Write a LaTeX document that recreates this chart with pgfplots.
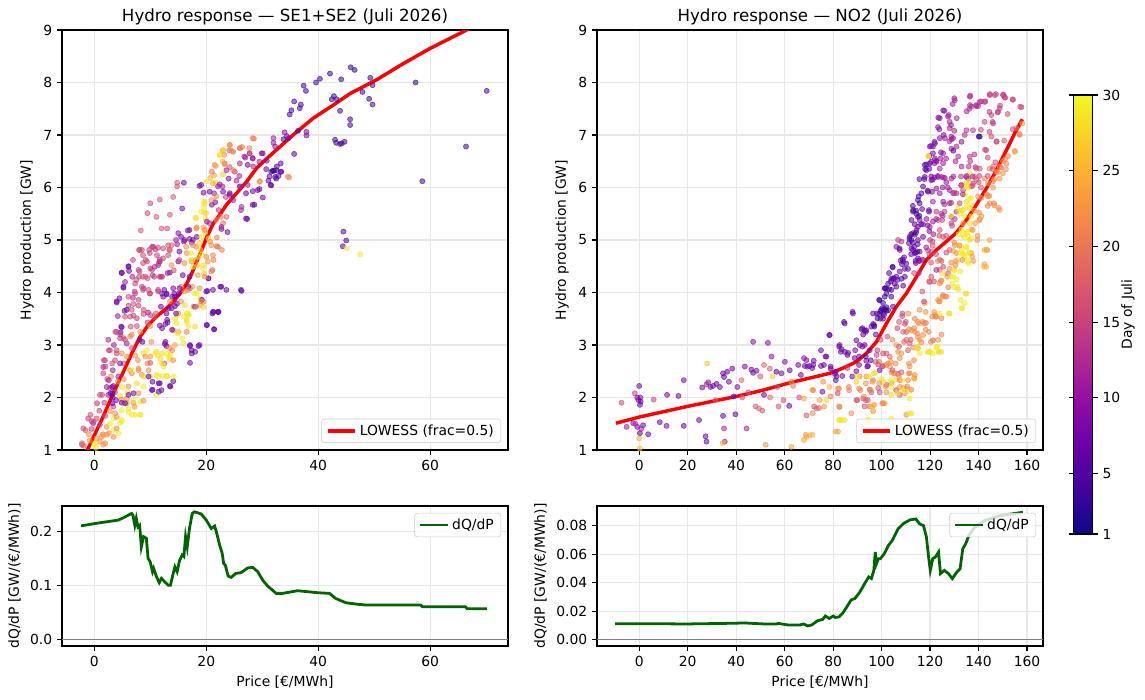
\documentclass[border=0pt]{standalone}
\usepackage{fontspec}
\setmainfont{DejaVu Sans}
\usepackage{pgfplots}
\pgfplotsset{compat=1.18}
\usetikzlibrary{calc}
\definecolor{lgrid}{HTML}{E8E8E8}
\definecolor{dgreen}{HTML}{006400}
\definecolor{zgray}{HTML}{808080}
\pgfplotsset{
 colormap={plasma}{rgb255=(13,8,135) rgb255=(65,4,157) rgb255=(106,0,168) rgb255=(143,13,164) rgb255=(177,42,144) rgb255=(204,71,120) rgb255=(225,100,98) rgb255=(242,132,75) rgb255=(252,166,54) rgb255=(252,206,37) rgb255=(240,249,33)},
 legend image code/.code={\draw[#1] (0pt,0pt) -- (20pt,0pt);},
 base/.style={scale only axis, width=321.12pt,
   axis line style={line width=0.8pt}, tick style={line width=0.8pt, black},
   tick align=outside, major tick length=3.5pt, xtick pos=left, ytick pos=left,
   grid=major, grid style={line width=0.8pt, lgrid},
   /pgf/number format/assume math mode=true,
   tick label style={font=\fontsize{10}{12}\selectfont},
   label style={font=\fontsize{10}{12}\selectfont},
   title style={font=\fontsize{12}{14}\selectfont, yshift=-6pt},
   legend cell align=left,
   legend style={font=\fontsize{10}{12}\selectfont, draw=black!20, fill=white, fill opacity=0.8, text opacity=1, rounded corners=2pt, inner xsep=3pt, inner ysep=2pt}},
 scat/.style={scatter, only marks, mark=*, mark size=1.85pt, point meta=explicit,
   scatter/use mapped color={draw=mapped color, fill=mapped color},
   mark options={line width=0.45pt, fill opacity=0.55, draw opacity=0.65}, forget plot}
}
\begin{document}
\begin{tikzpicture}
\path[use as bounding box] (0,0) rectangle (824.4pt,503.28pt);
% ---------------- top left
\begin{axis}[base, at={(44.64pt,179.28pt)}, anchor=south west, height=302.4pt,
  xmin=-5.77, xmax=73.9, ymin=1, ymax=9, xtick={0,20,40,60}, ytick={1,2,...,9},
  colormap name=plasma, point meta min=1, point meta max=30,
  title={Hydro response — SE1+SE2 (Juli 2026)}, ylabel={Hydro production [GW]},
  legend style={at={(1,0)}, anchor=south east, xshift=-5pt, yshift=5pt}]
\addplot[scat] coordinates {
(45.8,8.29)[3] (46.5,8.24)[3] (42.1,8.17)[3] (40.3,8.07)[4] (39.6,8.0)[4] (44.1,8.06)[3] (49.3,8.09)[4] (49.7,7.95)[4] (57.4,8.0)[3] (70.1,7.84)[4] (37.4,7.94)[4] (37.8,7.84)[4] (47.9,7.82)[4] (35.7,7.64)[5] (36.9,7.58)[5] (36.7,7.51)[4] (42.4,7.68)[4] (42.8,7.74)[3] (43.3,7.68)[4] (49.1,7.69)[3] (49.7,7.58)[4] (34.9,7.39)[5] (35.2,7.47)[4] (43.9,7.46)[4] (45.7,7.3)[4] (45.7,7.19)[4] (37.9,7.06)[9] (37.9,6.99)[9] (36.4,7.08)[5] (34.0,7.05)[10] (34.4,6.98)[9] (34.7,6.94)[8] (33.8,6.92)[4] (32.0,6.94)[11] (32.0,6.85)[11] (32.3,6.78)[10] (28.5,6.93)[19] (35.7,6.64)[5] (43.0,6.91)[4] (43.2,6.85)[5] (43.9,6.83)[4] (44.2,6.84)[4] (44.7,6.87)[4] (66.4,6.78)[4] (58.6,6.12)[4] (44.5,5.16)[5] (45.0,4.99)[5] (44.4,4.88)[5] (45.1,4.84)[29] (47.5,4.73)[29]
(24.2,6.81)[22] (24.1,6.71)[18] (22.9,6.71)[27] (22.4,6.62)[28] (23.2,6.62)[22] (26.0,6.75)[21] (26.4,6.77)[20] (24.8,6.68)[18] (27.0,6.57)[12] (27.8,6.65)[22] (29.9,6.65)[10] (21.7,6.41)[23] (23.3,6.44)[22] (22.9,6.5)[26] (24.2,6.39)[17] (25.1,6.3)[14] (28.3,6.55)[16] (28.4,6.40)[12] (30.8,6.51)[9] (31.6,6.30)[3] (32.1,6.32)[2] (32.6,6.4)[5] (33.3,6.46)[6] (32.3,6.2)[3] (32.9,6.22)[4] (33.3,6.3)[5] (34.8,6.19)[22] (29.6,6.12)[23] (31.1,6.13)[6] (31.6,6.04)[5] (25.9,6.22)[12] (24.0,6.17)[8] (21.4,6.23)[24] (20.7,6.18)[25] (20.1,6.11)[29] (21.6,6.1)[29] (22.4,6.06)[9] (22.9,6.02)[12] (14.8,6.09)[17] (14.8,6.02)[17] (16.0,6.09)[7] (18.8,6.03)[7] (19.5,5.9)[8] (21.4,5.89)[11] (24.2,5.89)[8] (23.5,5.82)[14] (26.0,6.02)[11] (28.3,5.93)[7] (29.5,5.97)[6] (28.6,5.67)[6] (27.3,5.4)[6] (26.3,5.63)[12] (23.0,6.25)[27] (21.0,6.3)[20]
(10.0,5.70)[16] (11.7,5.77)[17] (14.1,5.82)[17] (9.5,5.51)[16] (11.1,5.44)[17] (13.5,5.48)[17] (15.7,5.60)[8] (19.6,5.73)[29] (19.5,5.62)[29] (19.7,5.52)[28] (21.0,5.67)[8] (21.6,5.72)[9] (19.9,5.4)[28] (18.1,5.43)[28] (20.1,5.35)[11] (22.2,5.57)[13] (22.6,5.44)[20] (23.0,5.32)[19] (22.7,5.21)[9] (23.8,5.15)[7] (8.3,5.18)[17] (12.0,5.22)[17] (13.0,5.22)[16] (18.3,5.24)[22] (19.5,5.24)[24] (19.8,5.14)[27] (15.0,5.13)[9] (16.7,5.18)[10] (16.0,4.97)[10] (17.4,4.95)[12] (17.0,5.02)[8] (18.3,5.06)[7] (20.4,5.03)[28] (20.7,4.97)[23] (21.9,5.05)[21] (21.9,4.88)[19] (22.8,4.81)[21] (9.8,4.81)[15] (10.5,4.87)[16] (10.9,4.82)[14] (11.4,4.85)[15] (13.5,4.81)[17] (13.2,4.9)[16] (14.8,4.92)[11] (18.2,4.87)[22] (19.0,4.81)[27] (19.2,4.72)[29] (16.5,4.75)[22]
(8.0,4.81)[15] (6.1,4.5)[7] (6.2,4.41)[7] (4.9,4.38)[7] (9.2,4.62)[15] (10.0,4.46)[14] (11.7,4.63)[15] (11.4,4.52)[12] (13.2,4.71)[16] (13.5,4.38)[7] (15.0,4.59)[8] (17.4,4.59)[22] (18.1,4.62)[20] (19.5,4.52)[28] (19.6,4.36)[27] (21.3,4.62)[21] (21.1,4.43)[18] (20.4,4.27)[17] (8.0,4.3)[15] (9.5,4.27)[16] (10.7,4.3)[15] (11.7,4.3)[14] (14.2,4.42)[16] (7.3,4.17)[15] (8.8,4.08)[12] (10.0,3.98)[15] (11.4,4.05)[14] (12.5,4.05)[8] (12.9,3.96)[7] (14.1,4.08)[8] (14.4,3.92)[7] (15.5,4.11)[22] (16.2,4.02)[23] (17.1,4.08)[16] (17.5,4.11)[23] (18.3,3.98)[29] (18.9,3.89)[28] (20.2,4.03)[7] (22.7,4.11)[6] (26.3,4.03)[6] (5.2,4.09)[7] (4.0,3.81)[7] (4.5,3.89)[7] (5.4,3.65)[7] (6.1,3.75)[15] (7.0,3.78)[16] (7.9,3.75)[15] (6.4,3.54)[16] (7.0,3.56)[15] (8.8,3.59)[16] (9.6,3.62)[11] (11.0,3.6)[16] (11.9,3.73)[7] (12.9,3.6)[7] (13.3,3.7)[8] (14.4,3.74)[7] (15.0,3.6)[22] (16.2,3.76)[28] (16.5,3.6)[29] (16.9,3.57)[29] (17.7,3.73)[22] (18.9,3.76)[23] (19.5,3.72)[28] (19.5,3.82)[22] (21.1,3.6)[6] (22.1,3.63)[6] (20.1,3.38)[6] (21.4,3.3)[6]
(4.9,3.34)[7] (4.7,3.24)[7] (4.0,3.25)[15] (4.6,3.2)[14] (6.5,3.35)[16] (7.6,3.36)[16] (6.7,3.2)[22] (8.2,3.25)[22] (9.5,3.43)[15] (10.0,3.36)[22] (10.7,3.53)[17] (11.7,3.37)[8] (12.7,3.4)[7] (13.1,3.43)[8] (14.4,3.5)[28] (14.7,3.41)[29] (14.1,3.28)[22] (15.0,3.25)[23] (16.5,3.45)[29] (16.8,3.36)[29] (18.0,3.35)[28] (16.5,3.25)[21] (5.2,3.13)[15] (5.8,3.03)[11] (6.7,2.94)[16] (8.6,3.06)[6] (8.1,3.1)[7] (9.4,2.9)[29] (10.2,3.06)[22] (11.1,2.87)[28] (12.6,3.02)[7] (12.9,2.98)[8] (13.5,2.94)[22] (14.4,3.0)[24] (15.9,3.03)[29] (17.1,2.98)[7] (17.4,2.9)[7] (18.0,2.87)[7] (18.8,3.0)[7] (4.0,2.84)[15] (3.7,2.71)[15] (2.8,2.9)[16] (1.9,2.71)[15] (4.9,2.84)[22] (5.8,2.78)[22] (7.3,2.8)[22] (7.8,2.71)[22] (8.8,2.84)[28] (9.5,2.65)[21] (10.0,2.66)[17] (11.3,2.8)[29] (11.8,2.74)[28] (13.0,2.83)[29] (13.5,2.73)[28] (14.1,2.71)[22] (12.5,2.65)[16] (17.1,2.66)[7] (1.6,2.58)[11] (1.6,2.46)[15] (3.3,2.52)[11] (5.2,2.65)[16] (6.4,2.52)[22] (7.9,2.55)[22] (8.5,2.43)[22] (10.0,2.4)[29] (11.1,2.43)[28] (12.3,2.41)[29] (13.0,2.41)[28] (14.1,2.31)[6] (11.7,2.27)[7] (12.0,2.14)[7] (10.4,2.15)[7] (13.5,2.22)[7] (11.1,2.05)[29] (10.4,2.3)[7]
(2.2,2.2)[11] (2.8,2.18)[12] (3.4,2.22)[11] (1.0,2.05)[15] (2.5,2.05)[11] (3.7,2.1)[15] (4.6,2.03)[28] (4.9,1.96)[22] (5.8,1.98)[22] (6.1,1.79)[29] (7.0,1.9)[22] (7.2,1.82)[23] (8.2,1.92)[29] (8.8,1.94)[22] (6.7,1.67)[29] (7.3,1.67)[29] (8.2,1.67)[29] (4.9,1.57)[29] (4.6,1.51)[29] (3.7,1.7)[22] (3.4,1.83)[15] (2.8,1.74)[22] (0.4,1.6)[16] (-0.5,1.55)[15] (-1.1,1.6)[15] (-0.2,1.51)[11] (-1.96,1.41)[16] (1.0,1.48)[15] (2.2,1.44)[22] (2.8,1.5)[29] (3.4,1.38)[29] (4.3,1.32)[29] (2.2,1.29)[22] (1.3,1.25)[22] (0.4,1.22)[22] (0.0,1.1)[29] (0.3,1.04)[29] (-2.2,1.1)[16] (-1.9,1.08)[17] (1.0,1.16)[22] (1.6,1.1)[22] (-0.8,1.18)[22] (3.3,2.0)[7] (3.9,1.95)[7] (4.9,1.9)[7] (1.8,1.9)[15] (2.3,2.35)[15] (3.0,2.4)[22] (4.2,2.3)[22] (5.3,2.35)[22] (6.0,2.1)[29] (5.0,2.2)[29] (3.5,1.6)[29] (2.0,1.65)[16] (0.9,1.75)[15] (1.5,1.3)[22] (-1.0,1.3)[22] (-0.5,1.4)[15]
(3.5,3.0)[11] (4.2,3.55)[11] (2.5,3.1)[12] (5.5,4.2)[11] (6.8,4.3)[12] (3.2,2.2)[7] (6.9,3.9)[12]
};
\addplot[scat] coordinates {
(8.5,4.81)[15] (10.3,4.87)[16] (11.2,4.71)[15] (9.4,4.59)[16] (7.9,4.43)[15] (10.3,4.43)[14] (11.5,4.56)[16] (12.1,4.30)[11] (9.1,4.30)[16] (8.5,4.11)[15] (9.7,4.05)[16] (7.3,3.98)[15] (6.1,3.92)[16] (7.9,3.86)[15] (6.7,3.67)[16] (8.8,3.67)[16] (10.0,3.57)[15] (5.5,3.54)[16] (7.6,3.51)[15] (4.0,3.83)[8] (5.2,4.11)[7] (4.9,4.37)[7] (6.1,4.49)[7] (5.8,3.67)[7] (4.8,3.35)[8] (3.75,3.25)[15] (4.6,3.13)[14] (5.5,3.10)[16] (6.4,3.16)[21] (4.0,2.90)[16] (2.6,2.90)[15] (1.7,2.71)[15] (2.0,2.59)[14] (3.2,2.65)[16] (4.6,2.65)[8] (4.3,2.40)[11] (2.6,2.33)[11] (3.2,2.08)[7] (1.4,2.05)[15] (0.5,1.89)[14] (-0.7,1.67)[16] (-0.1,1.54)[16] (-1.6,1.38)[17] (-2.2,1.13)[19]
(9.1,2.78)[22] (10.0,2.78)[23] (10.9,2.84)[29] (12.1,2.84)[28] (13.3,2.78)[29] (13.9,2.90)[21] (12.4,2.59)[29] (11.5,2.40)[29] (13.0,2.40)[29] (8.8,2.40)[28] (9.7,2.52)[22] (7.9,2.52)[22] (6.7,2.46)[21] (7.6,2.27)[28] (6.1,2.21)[22] (7.9,2.08)[22] (7.0,1.95)[29] (5.8,1.89)[22] (4.9,1.76)[29] (6.1,1.73)[29] (8.2,1.67)[29] (4.0,1.63)[22] (4.9,1.54)[29] (4.0,1.41)[22] (2.6,1.32)[22] (1.7,1.29)[24] (0.2,1.13)[29] (1.96,1.13)[22] (3.45,1.25)[22]
(12.1,3.98)[7] (13.9,3.92)[7] (15.1,3.98)[7] (14.8,3.79)[7] (16.8,4.11)[7] (18.0,3.73)[7] (19.2,3.86)[7] (20.4,4.27)[7] (22.5,4.11)[7] (21.3,3.63)[7] (22.2,3.63)[8] (20.1,3.38)[7] (21.4,3.3)[7] (17.1,3.0)[7] (17.4,2.84)[7] (18.6,2.98)[7] (12.1,3.32)[8] (13.0,3.48)[7] (12.7,3.06)[8] (13.9,3.29)[7] (9.7,2.40)[7] (11.5,2.27)[7] (10.3,2.14)[7] (13.6,2.21)[7] (11.5,2.11)[7] (6.1,2.05)[7] (7.0,2.08)[8] (5.5,1.89)[7] (2.9,2.08)[7] (3.2,1.89)[7]
(14.8,3.57)[29] (16.8,3.57)[29] (16.5,3.48)[28] (14.9,3.22)[29] (15.7,3.13)[29] (13.6,2.81)[29] (12.1,2.65)[28] (14.2,2.40)[29] (8.8,2.21)[29] (6.7,2.52)[29]
(28.3,6.94)[21] (24.2,6.81)[22] (26.0,6.75)[20] (27.7,6.75)[21] (23.0,6.71)[26] (22.4,6.62)[29] (24.5,6.70)[22] (21.5,6.43)[23] (23.3,6.46)[21] (23.6,6.33)[11] (24.8,6.33)[20] (26.0,6.46)[12] (26.8,6.59)[11] (27.7,6.65)[12] (30.1,6.65)[9] (27.4,6.43)[7] (28.3,6.56)[8] (29.5,6.49)[11] (30.7,6.35)[7] (31.9,6.32)[3] (32.5,6.33)[4] (33.4,6.30)[6] (31.3,6.21)[7] (32.5,6.17)[5] (34.6,6.21)[22] (29.5,6.11)[22] (31.5,6.05)[7] (30.1,5.81)[7] (29.2,5.95)[8] (27.1,5.89)[7] (27.4,6.05)[11] (28.3,5.67)[7] (24.8,5.76)[11] (24.2,5.86)[8] (25.4,6.13)[12] (26.0,6.02)[11] (27.1,5.41)[7] (26.2,5.57)[12] (23.6,5.44)[19] (21.8,5.38)[22] (22.7,5.25)[11] (20.6,5.92)[7] (19.1,6.05)[8] (21.2,6.08)[24] (22.1,6.02)[11] (23.0,5.92)[8] (21.8,5.83)[22] (20.9,5.76)[23] (19.7,5.70)[28] (19.1,5.54)[29] (20.0,5.51)[28] (18.2,5.41)[29] (20.6,5.32)[11] (19.7,5.19)[22] (18.2,5.22)[22] (17.0,5.19)[7] (15.5,5.06)[7] (16.1,5.0)[8] (14.6,5.0)[11] (17.6,5.0)[7] (19.1,5.06)[29] (18.8,4.94)[27] (17.6,4.9)[22] (16.4,4.87)[22] (20.9,4.9)[22] (22.1,4.87)[20] (21.2,4.71)[21] (20.0,4.68)[22] (17.3,4.75)[29] (18.5,4.68)[29] (15.2,4.78)[7] (13.8,4.9)[18] (12.3,4.84)[16] (13.4,4.81)[17] (10.5,4.87)[15] (9.9,4.75)[15] (8.7,4.71)[16] (8.1,4.81)[16] (6.9,4.62)[15] (8.7,4.56)[16] (10.8,4.49)[12] (11.7,4.59)[11] (12.3,4.65)[16] (13.8,4.52)[22] (15.2,4.62)[16] (16.1,4.56)[22] (17.3,4.62)[28] (17.6,4.49)[29] (18.5,4.52)[27] (19.4,4.46)[29] (20.3,4.59)[23] (20.9,4.40)[21] (19.7,4.3)[22] (18.5,4.33)[23] (17.0,4.3)[8] (15.8,4.33)[7] (13.1,4.37)[11] (11.9,4.3)[15] (10.4,4.33)[14] (8.7,4.3)[17] (7.5,4.24)[16] (8.1,4.4)[15] (23.6,4.05)[7] (26.2,4.05)[7] (21.2,4.05)[7] (20.0,4.02)[7] (18.8,4.08)[22] (17.9,3.98)[29] (16.7,4.05)[21] (15.2,4.08)[8] (14.3,3.98)[7] (12.9,3.98)[7] (12.3,3.92)[8] (11.4,4.02)[15] (9.9,3.98)[15] (8.7,4.05)[16] (7.2,4.02)[15] (13.5,3.83)[22] (15.5,3.83)[22] (16.7,3.60)[29] (16.1,3.54)[29] (18.2,3.73)[22] (19.1,3.83)[22] (21.2,3.63)[7] (22.1,3.63)[7] (13.8,3.70)[7] (14.6,3.60)[8]
};
\addplot[red, line width=2.5pt] coordinates {
(-2.2,0.93) (-1.24,1.0) (1.3,1.57) (3.4,2.08) (5.2,2.49) (6.7,2.84) (8.2,3.16) (9.65,3.38) (11.1,3.54) (12.9,3.70) (14.4,3.86) (15.6,4.02) (16.5,4.17) (17.4,4.36) (18.3,4.59) (19.2,4.81) (20.1,5.06) (21.3,5.32) (22.4,5.48) (23.6,5.67) (25.4,5.89) (27.2,6.11) (29.0,6.37) (30.8,6.55) (33.2,6.78) (35.5,7.0) (39.1,7.32) (42.7,7.57) (45.7,7.79) (50.4,8.05) (55.2,8.36) (60.0,8.65) (66.5,9.0) (70.3,9.2)};
\addlegendentry{LOWESS (frac=0.5)}
\end{axis}
% ---------------- top right
\begin{axis}[base, at={(429.84pt,179.28pt)}, anchor=south west, height=302.4pt,
  xmin=-17.4, xmax=166.6, ymin=1, ymax=9, xtick={0,20,...,160}, ytick={1,2,...,9},
  colormap name=plasma, point meta min=1, point meta max=30,
  title={Hydro response — NO2 (Juli 2026)}, ylabel={Hydro production [GW]},
  legend style={at={(1,0)}, anchor=south east, xshift=-5pt, yshift=5pt},
  colorbar,
  colorbar style={at={($(parent axis.north east)+(13.7pt,-46.8pt)$)}, anchor=north west,
    scale only axis, width=13.68pt, height=316.08pt,
    ytick={1,5,10,15,20,25,30}, ylabel={Day of Juli},
    ylabel style={at={(axis description cs:2.24,0.5)}, anchor=north},
    axis line style={line width=0.8pt}, tick style={line width=0.8pt, black},
    tick align=outside, major tick length=3.5pt,
    /pgf/number format/assume math mode=true,
    tick label style={font=\fontsize{10}{12}\selectfont},
    label style={font=\fontsize{10}{12}\selectfont}}]
\addplot[scat] coordinates {
(-7.3,1.90)[16] (-5.2,1.44)[11] (-2.5,1.51)[10] (-1.8,2.08)[15] (-0.8,2.0)[8] (0.0,2.22)[7] (0.3,1.86)[7] (0.5,2.0)[8] (-0.3,1.95)[9] (0.6,1.92)[6] (-0.8,1.44)[8] (0.3,1.32)[6] (1.6,1.47)[7] (3.7,1.30)[7] (0.0,1.22)[25] (0.3,1.03)[26] (6.0,1.96)[15] (8.5,1.53)[7] (11.3,1.46)[8] (11.5,2.05)[7] (16.2,2.03)[7] (18.4,2.33)[8] (18.4,1.46)[7] (-1.5,1.5)[12] (0.8,1.4)[11]
(24.7,1.57)[7] (26.0,2.19)[8] (27.8,2.25)[12] (28.5,2.29)[11] (29.4,2.2)[8] (30.5,2.22)[7] (31.9,2.26)[6] (33.3,2.2)[7] (34.6,2.46)[7] (35.0,2.39)[6] (36.3,2.49)[7] (38.4,2.55)[8] (39.0,2.02)[6] (39.7,1.68)[6] (34.6,1.65)[7] (35.0,1.41)[12] (35.3,1.16)[11] (27.4,1.26)[7] (27.8,1.16)[6] (28.0,2.65)[26] (34.4,1.13)[25] (44.3,1.41)[12] (47.0,3.06)[9] (53.1,3.04)[9] (54.6,2.78)[10] (43.6,2.59)[9] (46.3,2.53)[8] (47.0,2.47)[7] (48.4,2.51)[9] (42.2,2.33)[19] (48.0,1.83)[17] (49.4,1.79)[18] (50.8,1.75)[17] (51.5,2.05)[7] (52.2,1.1)[23] (53.9,2.55)[17] (55.0,2.4)[27] (56.6,2.49)[6] (58.7,2.46)[8] (60.1,2.68)[9] (62.1,2.52)[7] (62.8,2.3)[22] (63.5,2.22)[20] (61.9,1.84)[7] (62.8,1.06)[24] (59.5,1.95)[16] (57.5,1.83)[17] (51.5,2.62)[18] (50.0,2.4)[17] (45.0,2.1)[16] (42.5,2.0)[17] (54.0,2.0)[19] (57.0,2.2)[16] (31.5,1.95)[17] (40.5,2.2)[9] (37.0,2.3)[8]
(65.6,2.62)[8] (68.3,2.6)[7] (69.0,2.71)[9] (70.3,2.6)[8] (71.8,2.62)[7] (75.0,2.6)[8] (71.8,2.14)[22] (69.0,1.66)[17] (70.4,1.28)[25] (69.0,1.25)[24] (73.1,1.79)[18] (75.9,2.3)[22] (77.2,2.78)[8] (78.6,3.19)[7] (79.0,2.55)[6] (81.4,2.4)[7] (80.7,2.45)[8] (77.2,1.95)[28] (82.0,2.17)[22] (82.7,1.82)[20] (82.7,1.57)[29] (84.8,1.57)[28] (82.0,1.35)[24] (82.7,3.0)[8] (83.5,2.92)[7] (84.8,2.87)[6] (86.2,2.85)[8] (84.8,3.41)[7] (88.2,3.6)[7] (88.9,2.75)[7] (89.6,2.5)[8] (91.0,2.4)[22] (89.6,3.09)[7] (91.7,3.3)[6] (93.0,3.28)[6] (89.6,2.3)[27] (93.7,2.7)[7] (94.4,2.6)[8] (91.3,2.14)[22] (89.6,1.95)[17] (92.4,1.98)[16] (95.1,1.83)[18] (96.5,1.74)[22] (95.1,1.54)[29] (93.7,1.25)[28] (66,2.0)[16] (74.5,1.95)[24] (86.5,2.2)[20] (78.5,2.2)[25] (87.5,1.7)[22] (75,2.9)[6] (72,2.7)[7]
(96.5,3.4)[5] (97.0,3.35)[6] (97.6,3.2)[7] (99.2,3.85)[4] (99.9,3.66)[5] (100.6,3.6)[5] (101.3,3.92)[3] (100.2,3.7)[4] (101.5,3.68)[3] (102.0,3.72)[4] (102.7,3.66)[5] (99.5,3.5)[6] (100.6,3.5)[7] (104.0,3.92)[4] (104.7,3.73)[6] (101.3,4.08)[4] (102.0,4.08)[4] (102.7,4.17)[5] (104.0,4.26)[7] (104.7,4.27)[6] (106.1,4.3)[6] (105.4,4.17)[5] (108.2,4.26)[5] (108.9,4.13)[6] (107.5,4.4)[7] (109.6,4.45)[6] (108.9,4.59)[5] (107.5,4.81)[8] (110.2,4.55)[6] (112.3,4.84)[6] (113.0,4.81)[7] (113.7,4.75)[5] (111.6,5.06)[6] (112.3,5.0)[5] (113.0,5.13)[7] (114.4,5.19)[8] (113.7,5.3)[6] (115.0,5.25)[7] (115.7,5.38)[8] (115.0,5.44)[7] (113.0,5.54)[5] (115.0,5.76)[5] (115.7,5.7)[4] (116.4,5.89)[5] (117.1,6.02)[5] (119.2,5.92)[7] (119.6,5.54)[8] (119.9,6.46)[6] (117.8,6.43)[8] (118.5,6.33)[7] (120.5,6.21)[7] (120.5,6.14)[8] (117.8,6.2)[6] (121.2,6.65)[8] (122.0,6.55)[9] (122.6,6.49)[10] (121.2,6.78)[9] (122.0,6.84)[8] (123.3,7.15)[10] (124.0,7.32)[9] (125.4,7.47)[10] (113.0,5.57)[6] (114.4,5.5)[5] (112.3,5.38)[6] (117.1,5.06)[7] (115.0,5.0)[6] (113.7,5.1)[5] (115.7,4.78)[7] (115.0,4.65)[6] (117.1,4.62)[7] (110.9,4.45)[6] (109.6,4.3)[5] (106.1,4.11)[6] (104.1,4.05)[5] (100.6,3.8)[4] (98.1,3.6)[5] (96.5,3.6)[6] (95.8,3.35)[7] (92.4,3.2)[6] (93.7,3.28)[7] (95.1,2.9)[8] (93.0,3.0)[7] (91.0,3.0)[6] (106.8,5.0)[14] (108.2,4.97)[13] (106.1,4.87)[9]
(127.4,7.35)[11] (128.1,7.25)[12] (128.8,6.97)[12] (129.5,6.94)[11] (130.2,7.66)[12] (133.0,6.87)[10] (136.4,7.73)[12] (137.0,7.54)[13] (139.1,7.55)[14] (139.8,7.55)[13] (140.5,7.63)[13] (142.5,7.63)[14] (144.6,7.76)[14] (146.7,7.76)[15] (150.1,7.76)[15] (150.8,7.72)[14] (154.2,7.67)[15] (148.7,7.51)[14] (148.0,7.44)[15] (145.3,7.38)[15] (146.0,7.22)[14] (157.7,7.53)[15] (155.6,7.13)[19] (158.1,7.22)[23] (157.0,7.0)[22] (155.0,6.68)[23] (147.4,6.87)[15] (143.2,6.71)[16] (140.5,6.97)[3] (136.4,6.59)[13] (136.6,6.5)[14] (128.1,7.13)[12] (126.1,6.94)[11] (128.8,6.74)[11] (130.9,6.78)[12] (125.4,6.65)[11] (124.0,6.94)[9] (135.0,7.09)[13] (134.3,7.0)[13] (137.7,7.09)[14] (142.5,7.25)[15] (145.3,6.97)[16] (141,7.1)[16] (152,7.4)[16] (121.8,6.46)[11] (124.0,6.36)[12] (125.4,6.46)[11] (123.3,6.2)[11] (124.7,6.2)[12] (126.1,6.18)[12] (126.7,6.1)[11] (128.8,6.17)[12] (129.5,5.89)[12] (128.1,5.95)[11] (130.9,5.89)[13] (133.6,5.95)[14] (132.2,5.7)[15] (128.1,5.7)[12] (125.4,5.73)[11] (122.6,5.98)[10] (124.0,5.89)[11] (121.2,5.73)[12] (123.3,5.38)[15] (125.0,5.38)[15] (128.8,5.32)[15] (126.0,5.54)[15] (128.8,5.44)[12] (130.9,5.54)[12] (130.2,5.4)[13] (131.6,6.59)[12] (133.0,6.4)[12] (130.5,6.5)[12] (135.0,6.2)[12] (135.7,6.17)[13] (137.7,6.08)[13] (137.0,6.02)[14] (119.9,6.78)[9] (119.7,6.6)[10] (117.1,5.3)[9] (118.5,5.4)[10] (121.2,5.35)[11] (122.6,5.54)[14] (124.7,5.5)[13] (119.9,5.25)[11] (120.0,5.0)[14] (121.0,4.97)[15] (124.0,5.19)[16] (125.4,5.06)[16] (119.2,4.8)[15] (120.5,4.78)[16] (124.0,4.62)[16] (124.7,4.6)[17] (125.4,4.49)[16] (124.0,4.43)[17] (126.7,4.76)[16] (128.1,4.81)[17] (127.4,4.36)[17] (128.1,4.45)[22] (122.6,4.43)[12]
(119.2,6.59)[29] (136.4,6.27)[29] (135.0,6.08)[28] (135.7,6.0)[28] (132.2,5.5)[29] (133.6,5.57)[28] (131.5,5.6)[29] (137.0,5.8)[29] (134.3,6.01)[29] (133.6,5.32)[24] (137.0,5.45)[29] (138.5,5.32)[23] (137.0,5.2)[24] (148.7,6.4)[22] (150.1,6.5)[22] (151.5,6.45)[21] (152.2,6.6)[22] (144.6,6.36)[21] (146.0,6.4)[20] (147.4,6.3)[22] (139.1,6.36)[17] (140.5,6.36)[16] (138.5,6.2)[19] (139.1,6.15)[17] (142.5,6.17)[21] (143.9,6.08)[22] (146.0,6.12)[21] (148.7,6.17)[22] (146.0,6.0)[23] (133.0,6.05)[17] (134.3,5.86)[29] (135.0,5.73)[28] (136.4,5.6)[29] (137.0,5.67)[28] (139.8,5.83)[22] (141.2,5.8)[21] (143.9,5.83)[22] (144.6,5.7)[22] (146.4,5.7)[21] (148.7,5.57)[23] (140.5,5.4)[22] (141.2,5.45)[23] (136.4,5.32)[28] (133.0,5.2)[29] (133.6,5.1)[28] (135.0,5.15)[29] (135.7,5.06)[29] (136.4,5.0)[28] (137.0,5.04)[29] (132.2,4.9)[28] (133.0,4.8)[29] (133.6,4.75)[29] (134.3,4.68)[28] (135.7,4.6)[29] (137.0,4.75)[23] (130.9,4.75)[22] (130.2,4.9)[23] (131.6,4.62)[29] (135.7,4.55)[29] (130.2,4.43)[28] (129.5,4.3)[29] (130.9,4.25)[29] (130.2,4.1)[29] (131.6,4.06)[28] (135.0,3.98)[28] (134.3,3.8)[29] (133.0,3.7)[29] (128.1,3.6)[28] (125.4,3.95)[21] (126.7,3.92)[22] (124.0,3.83)[22] (123.3,3.86)[23] (120.5,4.3)[17] (119.9,4.2)[18] (124.0,4.17)[22] (124.7,4.23)[21] (142.5,4.81)[24] (143.2,4.49)[25] (144.6,5.0)[24] (139.5,5.0)[22] (132.5,4.4)[29] (127.5,4.1)[21]
(117.8,3.8)[22] (115.7,3.67)[22] (117.0,3.44)[21] (118.3,3.42)[19] (122.0,3.57)[22] (122.7,3.54)[23] (124.7,3.51)[21] (124.0,3.6)[29] (115.0,3.44)[22] (113.7,3.5)[21] (112.3,3.28)[22] (113.7,3.25)[23] (109.6,3.4)[17] (108.9,3.25)[18] (110.2,3.25)[17] (115.0,3.15)[22] (115.7,3.1)[23] (116.4,3.05)[22] (115.0,2.94)[23] (111.6,3.03)[17] (110.9,2.9)[17] (110.2,3.1)[19] (113.0,2.95)[22] (115.7,2.84)[29] (119.2,2.87)[29] (119.9,2.87)[28] (123.3,2.87)[29] (124.7,2.87)[28] (122.6,2.95)[29] (106.8,2.87)[22] (108.2,2.84)[23] (107.5,2.75)[22] (103.4,2.78)[18] (102.0,2.84)[17] (100.6,2.84)[16] (97.9,2.81)[15] (98.6,2.63)[15] (100.6,2.6)[16] (102.7,2.65)[22] (99.2,2.52)[8] (103.4,2.59)[22] (104.0,2.48)[22] (105.4,2.46)[23] (106.8,2.45)[16] (108.2,2.48)[17] (111.6,2.59)[22] (111.6,2.46)[23] (110.9,2.33)[22] (113.7,2.35)[29] (107.5,2.33)[17] (105.4,2.33)[28] (104.0,2.27)[22] (102.0,2.24)[17] (100.6,2.3)[28] (99.9,2.35)[28] (97.2,2.46)[29] (96.5,2.33)[21] (93.7,2.4)[22] (95.1,2.15)[16] (95.8,2.1)[17] (98.6,2.18)[17] (99.2,2.1)[16] (102.0,2.1)[22] (104.0,2.2)[29] (107.5,2.2)[22] (108.9,2.18)[23] (109.6,2.08)[22] (110.2,2.17)[23] (111.6,1.98)[29] (111.6,2.12)[29] (112.3,2.15)[22] (106.0,2.14)[16] (104.0,2.05)[28] (107.5,2.05)[16] (113.7,2.43)[22] (100.6,1.89)[22] (101.3,1.89)[23] (95.8,1.83)[25] (96.5,1.83)[28] (93.0,1.83)[16] (94.3,1.95)[16] (94.4,1.58)[29] (104.0,1.6)[29] (110.2,1.67)[22] (112.3,1.7)[28] (111.3,1.41)[29] (110.5,1.35)[28] (123.3,3.1)[22] (124.7,3.2)[21] (117.1,3.19)[22] (121.2,3.09)[17] (119.5,3.25)[22] (106.1,3.0)[23] (104.5,3.1)[22] (108.5,3.55)[16] (111,3.6)[22]
};
\addplot[scat] coordinates {
(136.6,7.75)[13] (144.7,7.78)[14] (147.2,7.78)[15] (150.2,7.77)[14] (151.0,7.71)[15] (154.1,7.68)[15] (157.2,7.54)[16] (141.0,7.64)[13] (142.8,7.64)[14] (139.0,7.57)[12] (136.5,7.57)[12] (135.1,7.45)[12] (136.2,7.5)[13] (130.0,7.70)[11] (129.3,7.59)[11] (125.9,7.46)[10] (127.7,7.38)[11] (131.0,7.32)[12] (123.4,7.33)[9] (128.7,7.19)[11] (123.8,7.11)[9] (130.0,7.08)[12] (125.6,7.0)[9] (128.9,6.92)[11] (128.0,6.88)[12] (121.8,6.87)[8] (120.4,6.79)[9] (140.1,6.97)[3] (144.5,7.44)[14] (147.9,7.43)[14] (148.9,7.56)[15] (145.8,7.25)[14] (144.5,7.06)[15] (147.5,6.88)[16] (150.6,6.89)[17] (154.1,7.11)[16] (156.8,7.02)[21] (155.0,6.7)[23] (142.7,6.72)[15] (138.3,6.63)[13] (135.9,6.4)[13] (138.7,6.39)[14] (143.8,6.57)[16] (146.9,6.48)[16] (149.3,6.38)[19] (151.0,6.54)[21] (151.3,6.35)[22] (150.0,6.27)[22] (145.8,6.35)[17] (143.8,6.22)[16] (140.3,6.22)[15] (137.6,6.21)[12] (135.1,6.22)[13] (132.8,6.21)[13] (129.6,6.21)[11] (125.6,6.19)[11] (123.2,6.22)[10] (121.8,6.19)[8] (118.4,6.44)[5] (118.0,6.35)[4] (119.7,6.36)[7] (120.4,6.49)[8] (122.5,6.51)[9] (124.3,6.55)[10] (126.6,6.55)[11] (129.6,6.70)[5] (124.5,6.67)[9] (119.3,6.6)[29] (115.6,6.16)[5] (117.7,6.16)[6] (121.1,6.15)[8] (119.0,5.94)[6] (120.8,5.92)[8] (125.2,6.0)[10] (127.3,6.0)[11] (132.8,6.04)[14] (135.1,6.03)[29] (135.9,6.11)[28] (137.6,6.04)[18] (140.1,6.10)[16] (141.0,6.0)[17] (143.4,5.87)[21] (146.5,6.16)[22] (147.9,6.29)[22] (115.3,5.83)[4] (112.9,5.65)[4] (114.2,5.56)[4] (116.7,5.59)[6] (119.5,5.57)[8] (115.6,5.46)[4] (116.3,5.3)[5] (114.2,5.14)[5] (112.2,5.11)[4] (111.5,5.02)[4] (112.9,4.95)[4] (114.9,4.92)[6] (114.2,4.76)[4] (112.2,4.73)[7] (107.4,4.84)[6] (108.7,4.63)[7] (114.0,4.60)[7] (115.6,4.60)[8] (119.7,5.17)[9] (121.4,5.11)[11] (122.5,5.40)[11] (125.2,5.46)[12] (125.9,5.68)[12] (128.7,5.71)[13] (130.0,5.9)[14] (133.5,5.87)[12] (129.1,5.27)[15] (128.7,5.46)[29] (132.8,5.56)[28] (135.1,5.62)[29] (134.1,5.46)[29] (136.2,5.78)[29] (138.3,5.56)[22] (140.3,5.52)[22] (143.8,5.65)[21] (146.5,5.66)[22] (148.3,5.61)[22] (144.5,5.84)[22] (140.3,5.37)[23] (131.8,5.11)[29] (134.1,5.05)[29] (135.5,5.14)[29] (137.6,5.19)[23] (139.6,5.08)[22] (135.1,4.86)[29] (133.5,4.73)[29] (136.2,4.76)[28] (132.1,4.89)[22] (129.6,4.79)[23] (130.7,4.6)[22] (137.9,4.6)[23] (142.4,4.54)[24] (143.4,4.81)[24] (130.0,4.95)[21] (126.6,5.08)[16] (123.8,5.08)[16] (121.1,4.89)[17] (122.5,4.73)[16] (118.4,4.86)[11] (119.7,4.73)[15] (120.4,4.57)[17] (123.2,4.60)[22] (128.7,4.57)[22] (116.3,4.63)[15] (119.0,5.28)[9] (104.6,4.48)[5] (108.4,4.54)[6]
(104.5,4.49)[5] (107.9,4.61)[6] (109.3,4.67)[7] (111.3,4.94)[6] (113.4,4.87)[6] (114.1,4.56)[7] (114.8,4.78)[7] (115.4,4.61)[8] (103.1,4.37)[5] (105.1,4.27)[6] (106.5,4.24)[7] (103.8,4.21)[5] (101.4,4.08)[4] (103.1,4.06)[5] (102.0,3.98)[4] (99.0,3.86)[4] (99.6,3.65)[4] (101.0,3.68)[4] (102.0,3.65)[3] (99.0,3.59)[5] (98.3,3.51)[4] (96.9,3.38)[5] (101.0,3.57)[6] (88.0,3.63)[6] (92.1,3.32)[7] (93.5,3.25)[7] (84.5,3.44)[6] (78.4,3.19)[7] (82.5,2.97)[7] (83.2,2.87)[8] (85.9,2.81)[7] (89.1,2.90)[8] (92.1,2.97)[8] (90.7,2.78)[7] (93.5,2.78)[6] (95.5,2.71)[6] (90.7,2.62)[8] (94.1,2.59)[7] (68.0,2.75)[9] (69.4,2.59)[8] (71.4,2.56)[7] (76.2,2.62)[7] (76.9,2.78)[8] (79.0,2.59)[8] (81.1,2.49)[8] (83.8,2.41)[8] (87.9,2.40)[7] (66.7,2.43)[7] (75.6,2.11)[8] (81.1,2.33)[6]
(90.0,2.40)[29] (94.8,2.40)[28] (93.5,2.27)[22] (96.2,2.30)[23] (99.0,2.27)[22] (101.7,2.21)[22] (103.8,2.33)[29] (105.1,2.46)[22] (107.2,2.40)[23] (108.6,2.33)[29] (110.6,2.21)[22] (108.6,2.14)[29] (106.5,2.08)[28] (113.4,2.37)[22] (111.3,2.46)[21] (103.8,2.68)[22] (102.0,2.62)[21] (99.0,2.68)[20] (96.9,2.46)[28] (90.7,2.17)[21] (92.7,2.02)[22] (95.5,2.14)[22] (100.3,1.89)[22] (96.9,1.86)[23] (82.5,2.17)[22] (86.6,2.14)[21] (71.5,2.14)[22] (68.0,1.98)[24] (79.0,2.02)[21] (82.5,1.83)[22] (76.3,1.83)[23] (71.5,1.70)[22] (83.8,1.57)[29] (82.5,1.57)[28] (81.1,1.35)[24] (68.7,1.29)[24] (71.5,1.29)[25] (68.0,1.19)[24] (94.1,1.54)[29] (111.3,1.70)[29] (111.3,3.30)[22] (113.4,3.32)[21] (114.8,3.22)[22] (115.4,3.41)[22] (117.5,3.41)[22] (118.2,3.29)[21] (114.8,2.94)[29] (114.8,2.97)[28] (118.9,2.87)[29] (121.0,2.84)[29] (123.0,2.97)[29] (123.7,2.87)[28] (120.3,3.06)[22] (112.0,3.10)[17] (109.3,3.06)[18] (107.2,2.97)[17] (111.3,2.65)[22] (105.8,2.65)[22] (113.4,2.71)[21] (120.9,3.54)[22] (118.2,3.63)[22] (121.7,3.63)[23] (122.3,3.54)[21] (125.1,3.92)[21] (126.4,3.92)[22] (123.7,3.83)[22] (127.8,3.60)[28] (132.6,3.86)[29] (133.3,3.70)[29] (134.7,3.98)[28] (127.1,4.30)[22] (124.4,4.21)[22] (125.1,4.37)[28] (128.5,4.30)[29] (129.9,4.43)[29] (129.2,4.17)[29] (131.3,4.11)[29] (130.5,4.52)[22] (142.2,4.49)[25] (134.7,4.87)[29] (136.0,4.75)[29] (132.6,4.75)[29] (133.3,4.62)[22] (137.4,4.68)[23] (143.6,4.81)[24]
(116.8,4.02)[17] (117.5,3.83)[16] (119.6,4.21)[17] (121.6,4.21)[16] (113.4,4.37)[16] (115.4,4.37)[14] (108.6,3.60)[16] (107.2,3.44)[17] (110.0,3.44)[16] (106.5,3.32)[15] (102.4,3.16)[16] (99.6,3.10)[16] (98.3,2.90)[15] (97.6,2.68)[16] (100.3,2.59)[16] (104.5,2.52)[17] (93.5,1.95)[17] (90.0,1.95)[17] (81.9,2.08)[16] (85.9,2.56)[15] (74.2,1.80)[18] (72.2,1.83)[17]
};
\addplot[red, line width=2.5pt] coordinates {
(-9.6,1.51) (0.27,1.63) (20.9,1.84) (40.1,2.02) (51.1,2.14) (62.1,2.28) (73.1,2.40) (78.6,2.46) (84.1,2.56) (89.6,2.68) (93.7,2.84) (97.9,3.06) (102.0,3.41) (106.1,3.73) (110.2,3.98) (114.4,4.30) (118.5,4.62) (122.6,4.81) (126.7,4.97) (130.9,5.14) (135.0,5.38) (139.1,5.67) (143.2,5.98) (147.4,6.33) (151.5,6.71) (154.9,7.03) (158.1,7.30)};
\addlegendentry{LOWESS (frac=0.5)}
\end{axis}
% ---------------- bottom left
\begin{axis}[base, at={(44.64pt,38.16pt)}, anchor=south west, height=100.8pt,
  xmin=-5.77, xmax=73.9, ymin=-0.0118, ymax=0.2478, xtick={0,20,40,60}, ytick={0,0.1,0.2},
  scaled y ticks=false,
  yticklabel style={/pgf/number format/fixed, /pgf/number format/fixed zerofill, /pgf/number format/precision=1},
  xlabel={Price [€/MWh]}, ylabel={dQ/dP [GW/(€/MWh)]},
  legend style={at={(1,1)}, anchor=north east, xshift=-5pt, yshift=-5pt}]
\addplot[zgray, line width=1pt, forget plot] coordinates {(-5.77,0) (73.9,0)};
\addplot[dgreen, line width=2pt] coordinates {
(-2.37,0.211) (1.0,0.2167) (4.27,0.2216) (5.2,0.226) (6.65,0.234) (6.9,0.231) (7.24,0.212) (7.5,0.225) (7.8,0.209) (8.1,0.212) (8.4,0.172) (8.8,0.191) (9.3,0.188) (9.6,0.151) (10.0,0.144) (10.4,0.126) (10.6,0.132) (11.1,0.117) (11.6,0.1056) (12.0,0.1136) (12.6,0.107) (13.2,0.101) (13.6,0.101) (14.1,0.123) (14.4,0.135) (14.8,0.126) (15.25,0.1475) (15.7,0.157) (16.0,0.154) (16.3,0.191) (16.6,0.172) (17.0,0.206) (17.5,0.234) (17.9,0.237) (18.5,0.235) (19.1,0.233) (20.0,0.2216) (20.9,0.206) (21.5,0.2105) (21.8,0.2) (22.4,0.175) (22.85,0.16) (23.1,0.1414) (23.4,0.138) (23.9,0.118) (24.45,0.1154) (25.3,0.123) (26.2,0.124) (27.4,0.133) (28.3,0.134) (29.2,0.126) (30.1,0.110) (31.0,0.099) (32.5,0.0858) (33.65,0.0858) (36.3,0.0907) (38.1,0.0889) (39.9,0.087) (42.0,0.0858) (43.1,0.0765) (44.9,0.0685) (46.7,0.066) (48.5,0.0642) (51.45,0.0642) (54.4,0.0642) (58.3,0.0642) (58.6,0.061) (66.3,0.061) (66.6,0.0574) (70.15,0.0574)};
\addlegendentry{dQ/dP}
\end{axis}
% ---------------- bottom right
\begin{axis}[base, at={(429.84pt,38.16pt)}, anchor=south west, height=100.8pt,
  xmin=-17.4, xmax=166.6, ymin=-0.0045, ymax=0.094, xtick={0,20,...,160}, ytick={0,0.02,0.04,0.06,0.08},
  scaled y ticks=false,
  yticklabel style={/pgf/number format/fixed, /pgf/number format/fixed zerofill, /pgf/number format/precision=2},
  xlabel={Price [€/MWh]}, ylabel={dQ/dP [GW/(€/MWh)]},
  legend style={at={(1,1)}, anchor=north east, xshift=-5pt, yshift=-5pt}]
\addplot[zgray, line width=1pt, forget plot] coordinates {(-17.4,0) (166.6,0)};
\addplot[dgreen, line width=2pt] coordinates {
(-9.9,0.0112) (3.1,0.0112) (19.3,0.011) (35.5,0.0114) (43.6,0.0117) (51.7,0.011) (56.6,0.011) (57.4,0.0114) (61.4,0.0103) (66.3,0.0103) (67.9,0.011) (69.5,0.0096) (71.2,0.0103) (73.6,0.0133) (75.7,0.0142) (76.8,0.0166) (78.4,0.0149) (80.1,0.0166) (80.9,0.0156) (82.5,0.016) (84.1,0.0189) (85.7,0.0231) (87.4,0.0278) (89.0,0.029) (90.6,0.0324) (91.9,0.036) (93.0,0.0394) (94.7,0.0441) (95.8,0.043) (96.8,0.0487) (97.4,0.0616) (97.9,0.0534) (98.7,0.0569) (99.5,0.0569) (101.1,0.0604) (102.8,0.0662) (104.4,0.0697) (106.8,0.0779) (109.2,0.0819) (111.7,0.0842) (114.1,0.0849) (115.7,0.0814) (117.3,0.0802) (118.5,0.0721) (119.4,0.0581) (120.1,0.0487) (121.1,0.0569) (122.2,0.0581) (123.5,0.0616) (124.3,0.0464) (125.9,0.0487) (127.6,0.0464) (129.2,0.0429) (131.1,0.0476) (132.4,0.0499) (133.5,0.0639) (134.7,0.0674) (136.0,0.0732) (138.4,0.0791) (142.5,0.0837) (148.9,0.0872) (158.3,0.0896)};
\addlegendentry{dQ/dP}
\end{axis}
\end{tikzpicture}
\end{document}
